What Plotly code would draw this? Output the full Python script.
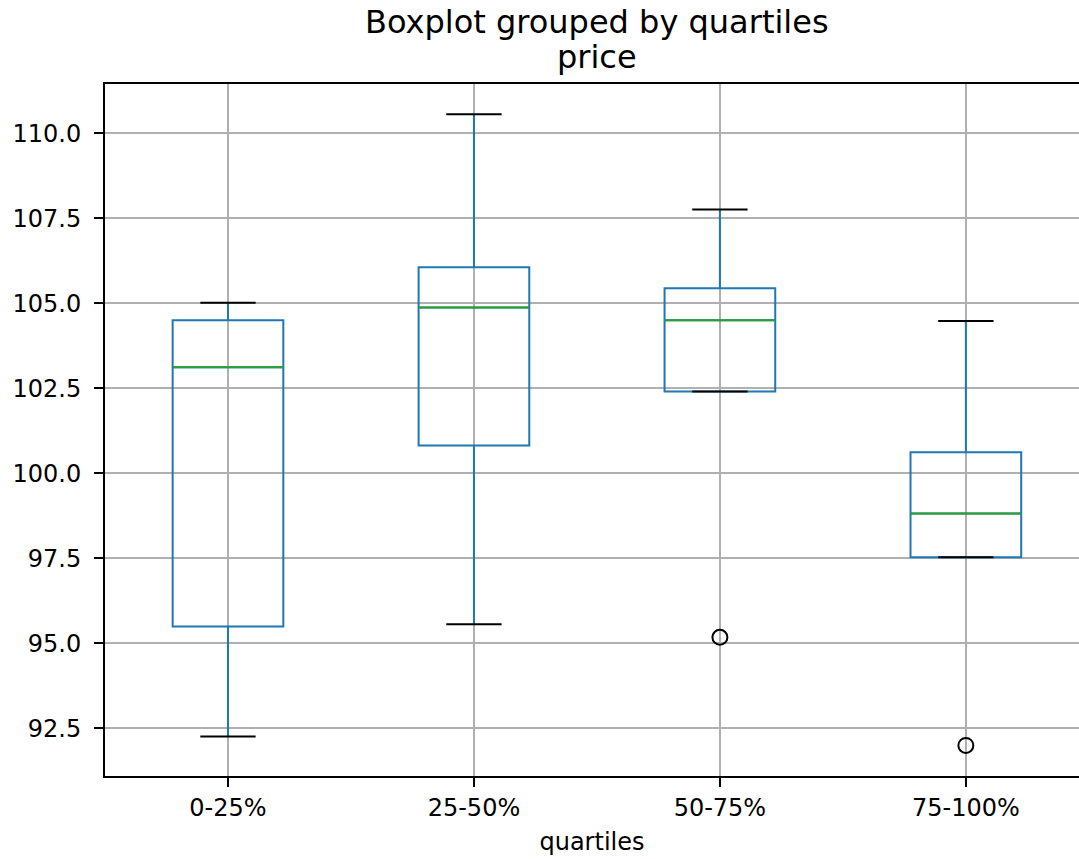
import plotly.graph_objects as go

categories = ["0-25%", "25-50%", "50-75%", "75-100%"]
positions = [1, 2, 3, 4]
lower_whisker = [92.26, 95.56, 102.41, 97.53]
q1 = [95.50, 100.82, 102.41, 97.53]
median = [103.12, 104.88, 104.50, 98.82]
q3 = [104.50, 106.06, 105.44, 100.62]
upper_whisker = [105.02, 110.56, 107.76, 104.48]
outlier_pos = [3, 4]
outlier_val = [95.18, 92.00]

BOX_W = 0.45
CAP_W = BOX_W / 2
BLUE = "#1f77b4"
GREEN = "#2ca02c"
FONT = "DejaVu Sans"

fig = go.Figure()
fig.add_trace(go.Box(
    x=positions, q1=q1, median=median, q3=q3,
    lowerfence=lower_whisker, upperfence=upper_whisker,
    width=BOX_W, whiskerwidth=0,
    line=dict(color=BLUE, width=2),
    fillcolor="rgba(0,0,0,0)",
    showlegend=False, hoverinfo="skip",
))

# medians (green)
mx, my = [], []
for p, m in zip(positions, median):
    mx += [p - BOX_W / 2, p + BOX_W / 2, None]
    my += [m, m, None]
fig.add_trace(go.Scatter(x=mx, y=my, mode="lines",
                         line=dict(color=GREEN, width=2),
                         showlegend=False, hoverinfo="skip"))

# caps (black)
cx, cy = [], []
for p, lo, hi in zip(positions, lower_whisker, upper_whisker):
    for v in (lo, hi):
        cx += [p - CAP_W / 2, p + CAP_W / 2, None]
        cy += [v, v, None]
fig.add_trace(go.Scatter(x=cx, y=cy, mode="lines",
                         line=dict(color="black", width=2),
                         showlegend=False, hoverinfo="skip"))

# fliers
fig.add_trace(go.Scatter(x=outlier_pos, y=outlier_val, mode="markers",
                         marker=dict(symbol="circle-open", size=15,
                                     color="black", line=dict(width=2)),
                         showlegend=False, hoverinfo="skip"))

PLOT_H = 859 - 84 - 83
fig.add_annotation(text="Boxplot grouped by quartiles", xref="paper", yref="paper",
                   x=0.505, y=1 + 62 / PLOT_H, xanchor="center", yanchor="middle",
                   showarrow=False, font=dict(family=FONT, size=32, color="black"))
fig.add_annotation(text="price", xref="paper", yref="paper",
                   x=0.505, y=1 + 27 / PLOT_H, xanchor="center", yanchor="middle",
                   showarrow=False, font=dict(family=FONT, size=32, color="black"))

fig.update_layout(
    width=1079, height=859,
    margin=dict(l=105, r=0, t=84, b=83),
    paper_bgcolor="white", plot_bgcolor="white",
    font=dict(family=FONT, size=24, color="black"),
    xaxis=dict(
        range=[0.5, 4.46], tickmode="array", tickvals=positions, ticktext=categories,
        showgrid=True, gridcolor="#b0b0b0", gridwidth=1.8, zeroline=False,
        showline=True, linecolor="black", linewidth=2, mirror=True,
        ticks="outside", ticklen=9, tickwidth=2, tickcolor="black",
        title=dict(text="quartiles", font=dict(family=FONT, size=24), standoff=12),
    ),
    yaxis=dict(
        range=[91.10, 111.45], tickmode="array",
        tickvals=[92.5, 95.0, 97.5, 100.0, 102.5, 105.0, 107.5, 110.0],
        ticktext=["92.5", "95.0", "97.5", "100.0", "102.5", "105.0", "107.5", "110.0"],
        showgrid=True, gridcolor="#b0b0b0", gridwidth=1.8, zeroline=False,
        showline=True, linecolor="black", linewidth=2, mirror=False,
        ticks="outside", ticklen=9, tickwidth=2, tickcolor="black",
        ticklabelstandoff=8,
    ),
)

fig.write_html(
    "out.html",
    config={"displayModeBar": False},
    post_script="document.body.style.margin='0';document.body.style.overflow='hidden';",
)
